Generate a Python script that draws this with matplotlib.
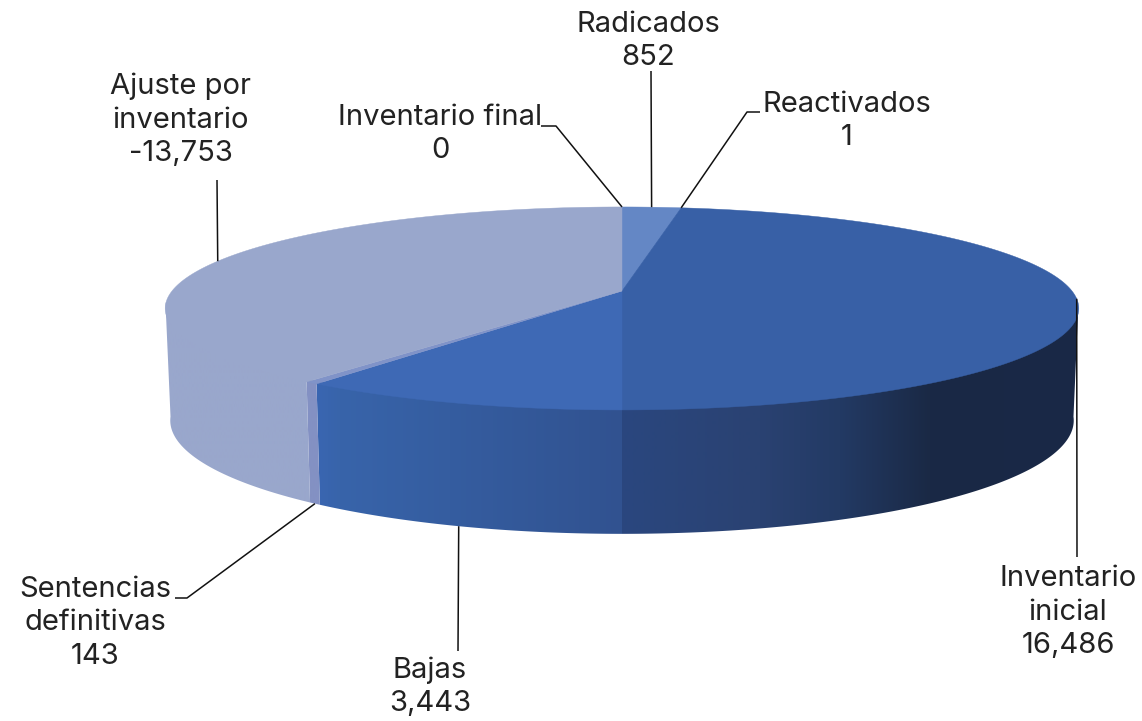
import matplotlib
matplotlib.use('Agg')
import matplotlib.pyplot as plt
import numpy as np
from matplotlib.colors import to_rgb
from matplotlib.patches import Polygon

plt.rcParams['font.family'] = ['Inter', 'DejaVu Sans']

# slices, clockwise from 12 o'clock
names = ['Inventario final', 'Radicados', 'Reactivados', 'Inventario\ninicial', 'Bajas',
         'Sentencias\ndefinitivas', 'Ajuste por\ninventario']
values = [0, 852, 1, 16486, 3443, 143, -13753]

# styles
top_colors = ['#99a7cc', '#6487c5', '#6487c5', '#3860a6', '#3e69b5', '#8093c8', '#99a7cc']
# wall gradients as (pixel x, colour), None where the wall is hidden or the slice is empty
wall_stops = [None, None, None,
              [(622, '#2a477f'), (760, '#2a4272'), (840, '#233a64'), (930, '#1a2945'), (1078, '#192847')],
              [(316, '#3a66b2'), (340, '#3864aa'), (450, '#355da0'), (622, '#315290')],
              [(300, '#8391c3'), (330, '#8391c3')],
              [(160, '#99a7cc'), (320, '#99a7cc')]]

# label centres and leader elbows in pixels, rim says which edge the leader starts on
label_xy = [(440, 134), (648, 41), (847, 121), (1068, 612), (430, 687), (95, 623), (181, 120)]
elbows = [[(556, 126), (541, 126)], [(651, 71)], [(747, 112), (760, 112)], [(1077, 557)],
          [(458, 651)], [(187, 598), (175, 598)], [(217, 180)]]
rim = ['top', 'top', 'top', 'top', 'bottom', 'bottom', 'top']

TOP = dict(cx=622, cy=291, a=450, b=98.5, k=0.172)
BOTTOM = dict(cx=622, cy=401, a=445, b=110, k=0.172)
# the wall only shows between the left and right extremes of the rim
WALL_FROM, WALL_TO = 98, 262


def project(theta, plane):
    # perspective view of a flat circle, theta clockwise from the top in degrees
    t = np.radians(theta)
    X, Y = np.sin(t), -np.cos(t)
    w = 1 - plane['k'] * Y
    return plane['cx'] + plane['a'] * X / w, plane['cy'] + plane['b'] * Y / w


sizes = np.abs(values)
edges = np.concatenate([[0], np.cumsum(sizes) / sizes.sum() * 360])

fig = plt.figure(figsize=(11.42, 7.21), dpi=100)
ax = fig.add_axes([0, 0, 1, 1])
ax.axis('off')

# side wall first, the top covers whatever is behind it
for i, stops in enumerate(wall_stops):
    if stops is None:
        continue
    arc = np.linspace(max(edges[i], WALL_FROM), min(edges[i + 1], WALL_TO), 300)
    xt, yt = project(arc, TOP)
    xb, yb = project(arc, BOTTOM)
    # tuck the upper edge under the top surface so no seam shows
    outline = np.column_stack([np.r_[xt, xb[::-1]], np.r_[yt - 3, yb[::-1]]])
    px = np.arange(stops[0][0], stops[-1][0] + 1)
    rgb = [np.interp(px, [s[0] for s in stops], [to_rgb(s[1])[c] for s in stops]) for c in range(3)]
    grad = np.dstack(rgb)
    im = ax.imshow(grad, extent=(px[0], px[-1], 721, 0), aspect='auto', zorder=1,
                   interpolation='bilinear')
    im.set_clip_path(Polygon(outline, closed=True, transform=ax.transData))

ax.set_xlim(0, 1142)
ax.set_ylim(721, 0)

# top surface
for i in range(len(values)):
    if sizes[i] == 0:
        continue
    arc = np.linspace(edges[i], edges[i + 1], 200)
    x, y = project(arc, TOP)
    ax.fill(np.r_[TOP['cx'], x], np.r_[TOP['cy'], y], color=top_colors[i], lw=0.3, zorder=2)

# leaders and labels
for i, name in enumerate(names):
    mid = (edges[i] + edges[i + 1]) / 2
    sx, sy = project(mid, TOP if rim[i] == 'top' else BOTTOM)
    pts = [(sx, sy)] + elbows[i]
    ax.plot([p[0] for p in pts], [p[1] for p in pts], color='#111111', lw=1.1, zorder=3,
            solid_capstyle='butt')
    ax.text(label_xy[i][0], label_xy[i][1], f'{name}\n{values[i]:,}', ha='center', va='center',
            ma='center', fontsize=21, color='#222222', linespacing=1.3, zorder=4)

fig.savefig('out.png', dpi=100)
